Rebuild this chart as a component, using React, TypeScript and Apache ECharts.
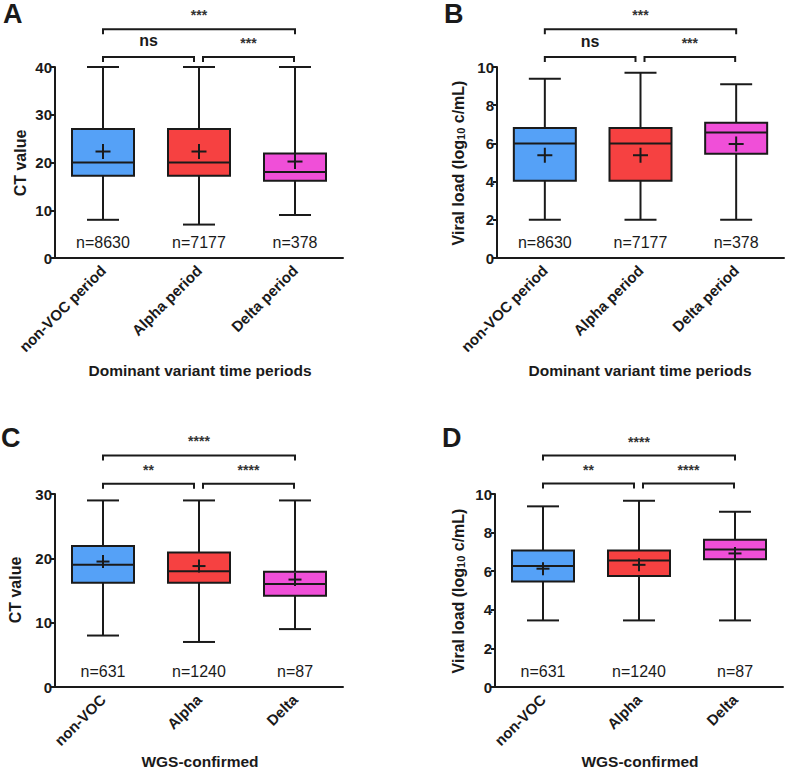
import React, { useEffect, useRef } from "react";
import * as echarts from "echarts";

const FONT = '"Liberation Sans", Arial, Helvetica, sans-serif';
const INK = "#1a1a1a";
const boxColors = ["#55A1F7", "#F64141", "#F04FD8"];

// Panel A / B categories
const periodCategories = ["non-VOC period", "Alpha period", "Delta period"];
// Panel C / D categories
const wgsCategories = ["non-VOC", "Alpha", "Delta"];

// Panel A: CT value by dominant variant period
const aMin = [8, 7, 9];
const aQ1 = [17.2, 17.2, 16.2];
const aMedian = [20, 20, 18];
const aQ3 = [27, 27, 21.9];
const aMax = [40, 40, 40];
const aMean = [22.3, 22.3, 20.2];
const aN = [8630, 7177, 378];

// Panel B: viral load by dominant variant period
const bMin = [2, 2, 2];
const bQ1 = [4.05, 4.05, 5.46];
const bMedian = [6.0, 6.0, 6.57];
const bQ3 = [6.8, 6.8, 7.08];
const bMax = [9.39, 9.7, 9.1];
const bMean = [5.38, 5.38, 5.97];
const bN = [8630, 7177, 378];

// Panel C: CT value, WGS-confirmed
const cMin = [8, 7, 9];
const cQ1 = [16.2, 16.2, 14.2];
const cMedian = [19, 18, 16];
const cQ3 = [21.9, 20.9, 17.9];
const cMax = [29, 29, 29];
const cMean = [19.5, 18.8, 16.7];
const cN = [631, 1240, 87];

// Panel D: viral load, WGS-confirmed
const dMin = [3.45, 3.45, 3.45];
const dQ1 = [5.46, 5.75, 6.62];
const dMedian = [6.27, 6.55, 7.12];
const dQ3 = [7.07, 7.07, 7.63];
const dMax = [9.36, 9.65, 9.08];
const dMean = [6.13, 6.33, 6.92];
const dN = [631, 1240, 87];

// Significance brackets: from category, to category, height (data units), label
const bracketFrom = [0, 0, 1];
const bracketTo = [2, 1, 2];
const aBracketY = [47.9, 42.1, 42.1];
const aBracketLabels = ["***", "ns", "***"];
const bBracketY = [11.97, 10.52, 10.52];
const bBracketLabels = ["***", "ns", "***"];
const cBracketY = [36.0, 31.6, 31.6];
const cBracketLabels = ["****", "**", "****"];
const dBracketY = [11.99, 10.54, 10.54];
const dBracketLabels = ["****", "**", "****"];

function boxData(mn: number[], q1: number[], md: number[], q3: number[], mx: number[], mean: number[], n: number[]) {
  return mn.map((_, i) => [i, mn[i], q1[i], md[i], q3[i], mx[i], mean[i], n[i]]);
}

function makeBoxRender(plus: number) {
  return (params: any, api: any) => {
    const idx = api.value(0);
    const c = (v: number) => api.coord([idx, v]);
    const pMin = c(api.value(1));
    const pQ1 = c(api.value(2));
    const pMed = c(api.value(3));
    const pQ3 = c(api.value(4));
    const pMax = c(api.value(5));
    const pMean = c(api.value(6));
    const p0 = c(0);
    const cx = pMin[0];
    const bw = 62;
    const cw = 32;
    const ls = { stroke: INK, lineWidth: 2 };
    const h = plus / 2;
    return {
      type: "group",
      children: [
        { type: "line", shape: { x1: cx, y1: pMax[1], x2: cx, y2: pMin[1] }, style: ls },
        { type: "line", shape: { x1: cx - cw / 2, y1: pMax[1], x2: cx + cw / 2, y2: pMax[1] }, style: ls },
        { type: "line", shape: { x1: cx - cw / 2, y1: pMin[1], x2: cx + cw / 2, y2: pMin[1] }, style: ls },
        {
          type: "rect",
          shape: { x: cx - bw / 2, y: pQ3[1], width: bw, height: pQ1[1] - pQ3[1] },
          style: { fill: boxColors[idx], stroke: INK, lineWidth: 2 },
        },
        { type: "line", shape: { x1: cx - bw / 2, y1: pMed[1], x2: cx + bw / 2, y2: pMed[1] }, style: ls },
        { type: "line", shape: { x1: cx - h, y1: pMean[1], x2: cx + h, y2: pMean[1] }, style: ls },
        { type: "line", shape: { x1: cx, y1: pMean[1] - h, x2: cx, y2: pMean[1] + h }, style: ls },
        {
          type: "text",
          x: cx,
          y: p0[1] - 16,
          style: {
            text: "n=" + api.value(7),
            fill: INK,
            fontSize: 16,
            fontFamily: FONT,
            align: "center",
            verticalAlign: "middle",
          },
        },
      ],
    };
  };
}

function makeBracketRender(labels: string[]) {
  return (params: any, api: any) => {
    const i = params.dataIndex;
    const from = api.value(0);
    const to = api.value(1);
    const yv = api.value(2);
    const p1 = api.coord([from, yv]);
    const p2 = api.coord([to, yv]);
    let x1 = p1[0];
    let x2 = p2[0];
    if (to - from === 1) {
      if (from === 0) x2 -= 5;
      else {
        x1 += 4;
        x2 -= 1;
      }
    }
    const y = p1[1];
    const label = labels[i];
    const isStar = label.indexOf("*") >= 0;
    return {
      type: "group",
      children: [
        {
          type: "polyline",
          shape: { points: [[x1, y + 5], [x1, y], [x2, y], [x2, y + 5]] },
          style: { stroke: INK, lineWidth: 2, fill: "none" },
        },
        {
          type: "text",
          x: (x1 + x2) / 2,
          y: isStar ? y - 14 : y - 16,
          style: {
            text: label,
            fill: isStar ? "#333" : INK,
            fontSize: isStar ? 14 : 16,
            fontWeight: "bold",
            fontFamily: FONT,
            align: "center",
            verticalAlign: "middle",
          },
        },
      ],
    };
  };
}

const grids = [
  { left: 55, top: 67, width: 288, height: 191 },
  { left: 497, top: 67, width: 287, height: 191 },
  { left: 55, top: 494, width: 288, height: 193 },
  { left: 495, top: 494, width: 288, height: 193 },
];

function xAxisFor(i: number, cats: string[]) {
  return {
    type: "category",
    gridIndex: i,
    data: cats,
    boundaryGap: true,
    axisLine: { lineStyle: { color: INK, width: 2 } },
    axisTick: { alignWithLabel: true, length: 5, lineStyle: { color: INK, width: 2 } },
    axisLabel: {
      rotate: 45,
      fontSize: 15,
      fontWeight: "bold",
      fontFamily: FONT,
      color: INK,
      margin: 10,
      interval: 0,
    },
    splitLine: { show: false },
  };
}

function yAxisFor(i: number, max: number, interval: number) {
  return {
    type: "value",
    gridIndex: i,
    min: 0,
    max,
    interval,
    axisLine: { show: true, lineStyle: { color: INK, width: 2 } },
    axisTick: { show: true, length: 4, lineStyle: { color: INK, width: 2 } },
    axisLabel: { fontSize: 15, fontWeight: "bold", fontFamily: FONT, color: INK, margin: 3 },
    splitLine: { show: false },
  };
}

function titleText(x: number, y: number, text: string, size: number, rotate = 0, rich?: any) {
  return {
    type: "text",
    x,
    y,
    rotation: rotate,
    style: {
      text,
      fill: INK,
      fontSize: size,
      fontWeight: "bold",
      fontFamily: FONT,
      align: "center",
      verticalAlign: "middle",
      rich,
    },
  };
}

function panelLetter(x: number, y: number, text: string) {
  return {
    type: "text",
    x,
    y,
    style: {
      text,
      fill: INK,
      fontSize: 27,
      fontWeight: "bold",
      fontFamily: FONT,
      align: "left",
      verticalAlign: "middle",
    },
  };
}

const viralRich = {
  a: { fontSize: 16, fontWeight: "bold", fontFamily: FONT, fill: INK },
  s: { fontSize: 11, fontWeight: "bold", fontFamily: FONT, fill: INK, padding: [5, 0, 0, 0] },
};
const viralTitle = "{a|Viral load (log}{s|10}{a| c/mL)}";

export default function App() {
  const ref = useRef<HTMLDivElement>(null);
  useEffect(() => {
    if (!ref.current) return;
    const chart = echarts.init(ref.current, null, { renderer: "svg" });
    const panels = [
      { data: boxData(aMin, aQ1, aMedian, aQ3, aMax, aMean, aN), by: aBracketY, bl: aBracketLabels, plus: 15 },
      { data: boxData(bMin, bQ1, bMedian, bQ3, bMax, bMean, bN), by: bBracketY, bl: bBracketLabels, plus: 15 },
      { data: boxData(cMin, cQ1, cMedian, cQ3, cMax, cMean, cN), by: cBracketY, bl: cBracketLabels, plus: 13 },
      { data: boxData(dMin, dQ1, dMedian, dQ3, dMax, dMean, dN), by: dBracketY, bl: dBracketLabels, plus: 13 },
    ];
    const series: any[] = [];
    panels.forEach((p, i) => {
      series.push({
        type: "custom",
        xAxisIndex: i,
        yAxisIndex: i,
        clip: false,
        silent: true,
        renderItem: makeBoxRender(p.plus),
        data: p.data,
        encode: { x: 0, y: [1, 5] },
      });
      series.push({
        type: "custom",
        xAxisIndex: i,
        yAxisIndex: i,
        clip: false,
        silent: true,
        renderItem: makeBracketRender(p.bl),
        data: bracketFrom.map((f, k) => [f, bracketTo[k], p.by[k]]),
        encode: { x: [0, 1], y: 2 },
      });
    });
    chart.setOption({
      animation: false,
      backgroundColor: "#ffffff",
      grid: grids,
      xAxis: [
        xAxisFor(0, periodCategories),
        xAxisFor(1, periodCategories),
        xAxisFor(2, wgsCategories),
        xAxisFor(3, wgsCategories),
      ],
      yAxis: [yAxisFor(0, 40, 10), yAxisFor(1, 10, 2), yAxisFor(2, 30, 10), yAxisFor(3, 10, 2)],
      series,
      graphic: [
        panelLetter(3, 14, "A"),
        panelLetter(444, 14, "B"),
        panelLetter(1, 438, "C"),
        panelLetter(442, 438, "D"),
        titleText(200, 370, "Dominant variant time periods", 15.5),
        titleText(640, 370, "Dominant variant time periods", 15.5),
        titleText(200, 761, "WGS-confirmed", 15.5),
        titleText(640, 761, "WGS-confirmed", 15.5),
        titleText(20, 163, "CT value", 16, Math.PI / 2),
        titleText(15, 590, "CT value", 16, Math.PI / 2),
        titleText(458, 163, viralTitle, 16, Math.PI / 2, viralRich),
        titleText(458, 591, viralTitle, 16, Math.PI / 2, viralRich),
      ],
    });
    return () => chart.dispose();
  }, []);
  return (
    <div
      ref={ref}
      style={{ position: "absolute", left: 0, top: 0, width: 786, height: 771, background: "#fff" }}
    />
  );
}
